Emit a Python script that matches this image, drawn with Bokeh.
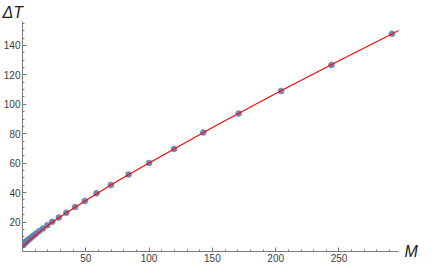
from bokeh.plotting import figure
from bokeh.models import Range1d, FixedTicker, LinearAxis, Title
from bokeh.embed import file_html
from bokeh.resources import INLINE

# measured points (M, dT)
M = [0.44, 0.53, 0.63, 0.75, 0.9, 1.1, 1.3, 1.5, 1.8, 2.2, 2.6, 3.1, 3.7, 4.4, 5.3, 6.3, 7.6, 9.0,
     10.8, 13.3, 16.2, 19.7, 23.5, 28.7, 34.6, 41.5, 49.2, 58.5, 69.8, 83.8, 100.0, 119.7,
     142.8, 170.8, 204.3, 244.1, 291.8]
dT = [4.5, 4.65, 4.8, 4.9, 5.1, 5.2, 5.4, 5.6, 5.8, 6.1, 6.5, 6.8, 7.3, 7.8, 8.4, 9.1, 10.0, 11.0,
      12.2, 13.9, 15.6, 17.9, 20.2, 23.1, 26.3, 30.2, 34.3, 39.5, 45.2, 52.4, 60.2, 69.7,
      80.8, 93.8, 109.1, 126.8, 147.9]

# fitted curve
fit_M = [0, 0.5, 1, 2, 5, 10, 20, 35, 50, 75, 100, 150, 200, 250, 298]
fit_T = [2.4, 3.2, 3.9, 4.9, 7.2, 10.9, 17.8, 26.5, 34.7, 47.9, 60.2, 84.3, 107.3, 129.6, 150.5]

x_major = [50, 100, 150, 200, 250]
x_minor = [v for v in range(10, 300, 10)]
y_major = [20, 40, 60, 80, 100, 120, 140]
y_minor = [v for v in range(5, 160, 5)]

p = figure(width=420, height=264, output_backend="svg", toolbar_location=None,
           x_range=Range1d(0, 297), y_range=Range1d(0, 156.3),
           min_border_left=0, min_border_right=0, min_border_top=0, min_border_bottom=0)
p.outline_line_color = None
p.grid.visible = False
p.background_fill_color = "white"
p.border_fill_color = "white"

axis_col = "#7a7a7a"
lab_col = "#3a3a3a"
for ax, maj, mnr in ((p.xaxis, x_major, x_minor), (p.yaxis, y_major, y_minor)):
    ax.ticker = FixedTicker(ticks=maj, minor_ticks=mnr)
    ax.axis_line_color = axis_col
    ax.major_tick_line_color = axis_col
    ax.minor_tick_line_color = axis_col
    ax.major_tick_in = 4
    ax.major_tick_out = 0
    ax.minor_tick_in = 2
    ax.minor_tick_out = 0
    ax.major_label_text_font = "Liberation Sans"
    ax.major_label_text_font_size = "10px"
    ax.major_label_text_color = lab_col
    ax.major_label_standoff = 2

# "M" label to the right of the horizontal axis
mlab = LinearAxis(ticker=FixedTicker(ticks=[0]), major_label_overrides={0: "M"},
                  axis_line_color=None, major_tick_line_color=None, minor_tick_line_color=None,
                  major_tick_in=0, major_tick_out=0,
                  major_label_standoff=6, major_label_text_font="Liberation Sans",
                  major_label_text_font_size="16px", major_label_text_font_style="italic",
                  major_label_text_color="#222222")
p.add_layout(mlab, "right")

p.add_layout(Title(text="ΔT", align="left", offset=-20, text_font="Liberation Sans",
                   text_font_size="16px", text_font_style="italic", text_color="#222222",
                   standoff=2), "above")

p.scatter(M, dT, size=6, fill_color="#5E81B5", line_color="#5E81B5", line_alpha=0.5, fill_alpha=0.9)
p.line(fit_M, fit_T, line_color="#FF0000", line_width=1.1)

open("out.html", "w").write(file_html(p, INLINE))
